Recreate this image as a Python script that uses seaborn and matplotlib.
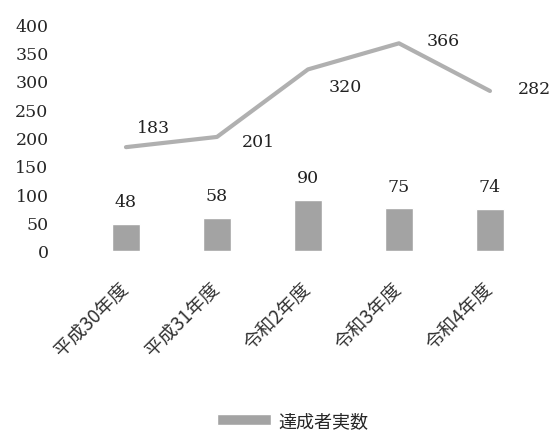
import numpy as np
import pandas as pd
import matplotlib
matplotlib.use("Agg")
import matplotlib.pyplot as plt
import seaborn as sns

categories = ["平成30年度", "平成31年度", "令和2年度", "令和3年度", "令和4年度"]
bar_values = [48, 58, 90, 75, 74]
line_values = [183, 201, 320, 366, 282]
legend_label = "達成者実数"
y_ticks = [0, 50, 100, 150, 200, 250, 300, 350, 400]

# label offsets (points) for line value labels
line_label_offsets = [(20, 14), (30, -3), (27, -12), (32, 2), (32, 2)]

sns.set_theme(style="white")
plt.rcParams["font.family"] = ["DejaVu Serif", "Noto Sans CJK JP"]

num_font = ["DejaVu Serif"]
jp_font = ["Noto Sans CJK JP", "DejaVu Serif"]

fig = plt.figure(figsize=(5.53, 4.35), dpi=100)
ax = fig.add_axes([0.1455, 0.4207, 0.8228, 0.5218])

df = pd.DataFrame({"cat": categories, "bar": bar_values, "line": line_values})
df["pos"] = np.arange(len(categories))

bar_color = "#a3a3a3"
line_color = "#b0b0b0"

sns.barplot(data=df, x="cat", y="bar", color=bar_color, width=0.31,
            ax=ax, label=legend_label, saturation=1)
sns.lineplot(data=df, x="pos", y="line", color=line_color, linewidth=3.0,
             ax=ax, legend=False)
if ax.get_legend() is not None:
    ax.get_legend().remove()

ax.set_xlim(-0.5, len(categories) - 0.5)
ax.set_ylim(0, 400)
ax.set_yticks(y_ticks)
ax.set_yticklabels([str(t) for t in y_ticks], fontfamily=num_font, fontsize=12.5)
ax.set_xticks(df["pos"])
ax.set_xticklabels(categories, fontfamily=jp_font, fontsize=13.5, color="#333333",
                   rotation=45, ha="right", va="center", rotation_mode="anchor")
ax.tick_params(axis="y", length=0, pad=23)
ax.tick_params(axis="x", length=0, pad=25)
ax.set_xlabel("")
ax.set_ylabel("")
for s in ax.spines.values():
    s.set_visible(False)
ax.grid(False)

for i, v in enumerate(bar_values):
    ax.annotate(str(v), (i, v), xytext=(0, 16), textcoords="offset points",
                ha="center", va="center", fontsize=12.5, fontfamily=num_font,
                color="#222222")
for i, v in enumerate(line_values):
    dx, dy = line_label_offsets[i]
    ax.annotate(str(v), (i, v), xytext=(dx, dy), textcoords="offset points",
                ha="center", va="center", fontsize=12.5, fontfamily=num_font,
                color="#222222")

handles, labels = ax.get_legend_handles_labels()
fig.legend(handles[:1], [legend_label], loc="center",
           bbox_to_anchor=(293 / 553, 1 - 422 / 435), frameon=False,
           prop={"family": jp_font, "size": 13}, handlelength=3.0,
           handleheight=0.55, handletextpad=0.4)

fig.savefig("out.png", dpi=100)
